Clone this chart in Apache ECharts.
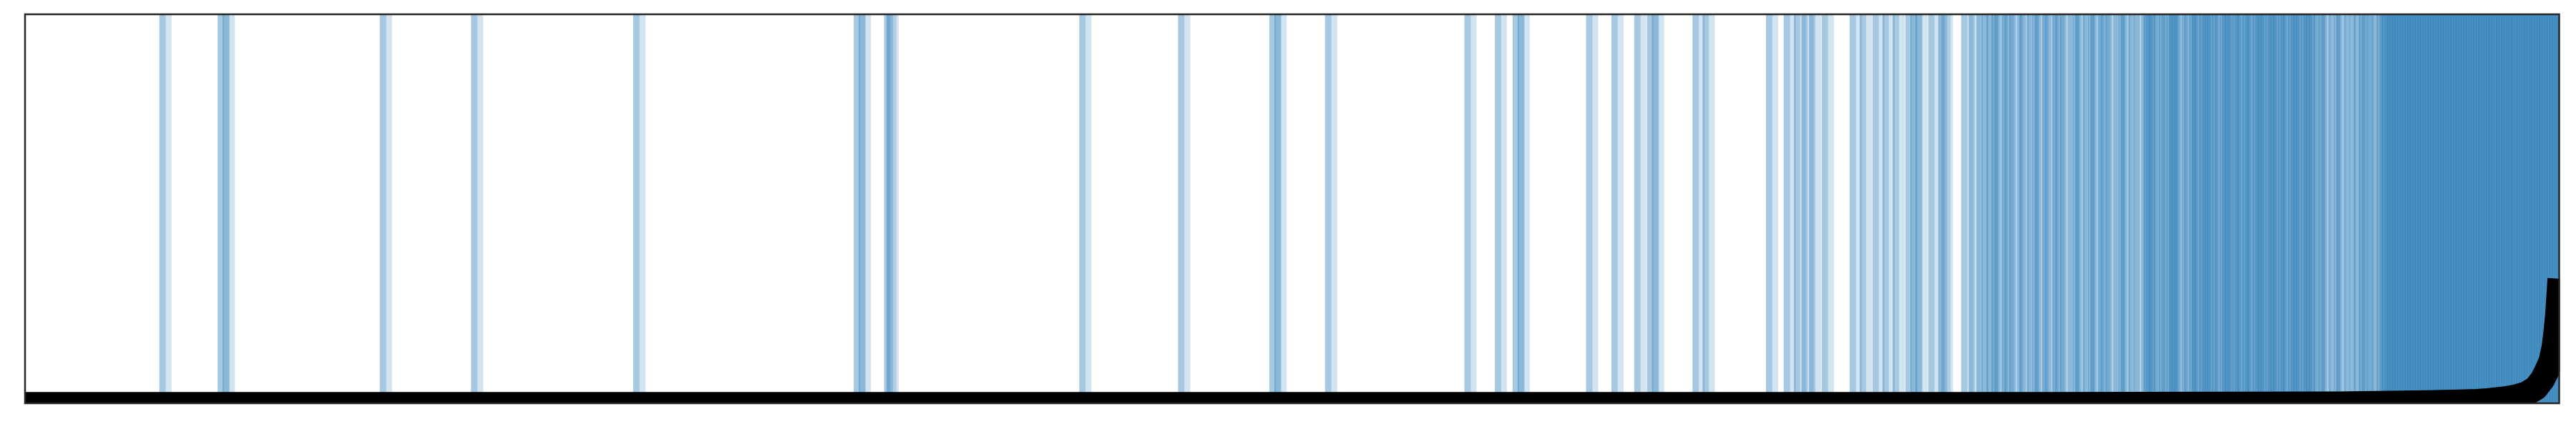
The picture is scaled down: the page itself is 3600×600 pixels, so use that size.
<!DOCTYPE html>
<html><head><meta charset="utf-8">
<script src="https://cdn.jsdelivr.net/npm/echarts@6/dist/echarts.min.js"></script>
<style>html,body{margin:0;padding:0;background:#fff}#c{width:3600px;height:600px}</style>
</head><body><div id="c"></div>
<script>
// sample indices (sorted order) that are highlighted
const eventIndex = [
  53, 76, 78, 140, 176, 240, 327, 329, 339, 340, 416, 455, 491, 493, 513,
  568, 580, 587, 589, 616, 626, 635, 640, 642, 658, 662,
  687, 694, 698, 701, 704, 709, 720, 724, 729, 733, 737, 742, 744, 746, 751, 755, 756,
  764, 767, 770, 772,
  774, 776, 777, 780, 781, 783, 786, 787, 790, 792, 793, 796, 797, 800, 801, 803, 806, 808,
  809, 812, 814, 815, 818, 819, 821, 824, 826, 827, 830, 832,
  835, 836, 837, 838, 840, 842, 843, 845, 846, 847, 848, 851, 852, 854, 855, 856,
  858, 859, 860, 861, 863, 864, 866, 867, 868, 869, 871, 872, 873, 875, 876, 877, 879, 880,
  881, 882, 884, 885, 886, 887, 889, 890, 891, 893, 894, 895, 896, 898, 899, 900, 901, 903,
  905, 906, 909, 911, 912, 915, 917, 919, 921, 922, 924, 926, 928,
  929, 930, 931, 932, 933, 934, 935, 936, 937, 938, 939, 940, 941, 942, 943, 944,
  945, 946, 947, 948, 949, 950, 951, 952, 953, 954, 955, 956, 957, 958, 959, 960, 961, 962,
  963, 964, 965, 966, 967, 968, 969, 970, 971, 972, 973, 974, 975, 976, 977, 978, 979, 980,
  981, 982, 983, 984, 985, 986, 987, 988, 989, 990, 991, 992, 993, 994, 995, 996, 997, 998, 999
];
// sorted score curve
const curveIndex = [0, 500, 800, 913.5, 948.2, 960.9, 967.7, 971.9, 978.4, 982.9, 986.9,
  990.8, 993.4, 995.1, 996.8, 998.0, 998.6, 999.4, 1000];
const curveValue = [-0.003, -0.003, -0.003, -0.002, 0.0015, 0.003, 0.0046, 0.0064, 0.011, 0.016, 0.024,
  0.039, 0.061, 0.083, 0.108, 0.145, 0.175, 0.226, 0.288];

const X_MIN = 0, X_MAX = 1000;
const SPAN_SHORT = 2.5, SPAN_LONG = 4.8;
const SPAN_COLOR_LONG = 'rgba(31,119,180,0.2)';
const SPAN_COLOR_SHORT = 'rgba(31,119,180,0.24)';

const chart = echarts.init(document.getElementById('c'), null, {renderer: 'canvas'});
const G = {left: 35, top: 20, width: 3541.5, height: 544};

const option = {
  animation: false,
  backgroundColor: '#ffffff',
  grid: {left: G.left, top: G.top, width: G.width, height: G.height, show: false},
  xAxis: {type: 'value', min: X_MIN, max: X_MAX, show: false},
  yAxis: {type: 'value', min: 0, max: 1, show: false},
  series: [
    {
      type: 'custom',
      clip: true,
      data: eventIndex.map(v => [v, 0]),
      encode: {x: 0, y: 1},
      renderItem: function (params, api) {
        const x = api.value(0);
        const a = api.coord([x, 1]);
        const b = api.coord([x + SPAN_SHORT, 0]);
        const c = api.coord([x + SPAN_LONG, 0]);
        return {
          type: 'group',
          children: [
            {type: 'rect', shape: {x: a[0], y: a[1], width: c[0] - a[0], height: b[1] - a[1]}, style: {fill: SPAN_COLOR_LONG}},
            {type: 'rect', shape: {x: a[0], y: a[1], width: b[0] - a[0], height: b[1] - a[1]}, style: {fill: SPAN_COLOR_SHORT}}
          ]
        };
      },
      z: 1
    },
    {
      type: 'line',
      data: curveIndex.map((x, i) => [x, curveValue[i]]),
      symbol: 'none',
      showSymbol: false,
      lineStyle: {color: '#000000', width: 35, cap: 'square', join: 'round'},
      z: 3
    }
  ],
  graphic: [
    {type: 'rect', silent: true, z: 100, shape: {x: 0, y: 0, width: G.left - 1, height: 600}, style: {fill: '#fff'}},
    {type: 'rect', silent: true, z: 100, shape: {x: G.left + G.width + 1, y: 0, width: 60, height: 600}, style: {fill: '#fff'}},
    {type: 'rect', silent: true, z: 100, shape: {x: 0, y: 0, width: 3600, height: G.top - 1}, style: {fill: '#fff'}},
    {type: 'rect', silent: true, z: 100, shape: {x: 0, y: G.top + G.height + 1, width: 3600, height: 60}, style: {fill: '#fff'}},
    {type: 'rect', silent: true, z: 101, shape: {x: G.left, y: G.top, width: G.width, height: G.height},
     style: {fill: 'none', stroke: '#262626', lineWidth: 2.5}}
  ]
};
chart.setOption(option);
</script>
</body></html>
